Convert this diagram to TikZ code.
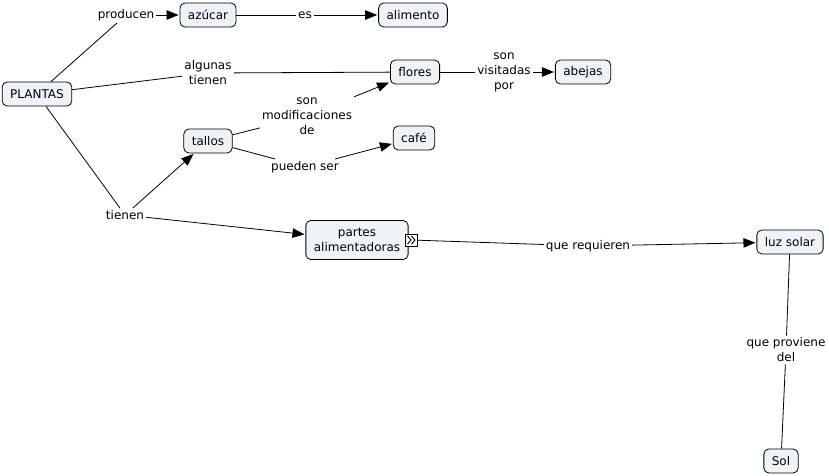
\documentclass[tikz,border=0pt]{standalone}
\usepackage{fontspec}
\setmainfont{DejaVu Sans}
\usepackage{xcolor}
\usepackage{tikz}
\usetikzlibrary{shapes,arrows,positioning,calc,arrows.meta}
\definecolor{conceptfill}{RGB}{237,243,246}

\begin{document}
\begin{tikzpicture}[x=1pt, y=-1pt,
    font=\fontsize{12}{15}\selectfont,
    concept/.style={draw, rounded corners=5pt, fill=conceptfill, line width=0.8pt, inner xsep=8pt, minimum height=24pt, align=center},
    phrase/.style={inner sep=2pt, align=center},
    link/.style={line width=0.8pt},
    arrowlink/.style={line width=0.8pt, shorten >=1pt, -{Triangle[length=12pt,width=9.5pt]}}]
    \useasboundingbox (0,0) rectangle (829,475);

    % Concepts
    \node[concept] (plantas) at (37,94) {PLANTAS};
    \node[concept] (azucar) at (208,15) {azúcar};
    \node[concept] (alimento) at (413,15) {alimento};
    \node[concept] (flores) at (415,72) {flores};
    \node[concept] (abejas) at (583,72) {abejas};
    \node[concept] (tallos) at (208,141) {tallos};
    \node[concept] (cafe) at (414,138) {café};
    \node[concept, minimum height=39pt] (partes) at (357,240) {partes\\alimentadoras};
    \node[draw, fill=white, line width=0.8pt, inner sep=0pt, minimum size=12pt] (partes-icon) at (411.5,240) {};
    \draw[line width=0.9pt, shift={(partes-icon.center)}] (-4,-4) -- (-0.5,0) -- (-4,4) (0,-4) -- (3.5,0) -- (0,4);
    \node[concept] (luz) at (790,242) {luz solar};
    \node[concept] (sol) at (781,461) {Sol};

    % Linking phrases
    \node[phrase] (producen) at (126,15) {producen};
    \node[phrase] (es) at (305,15) {es};
    \node[phrase] (algunas) at (208,73) {algunas\\tienen};
    \node[phrase] (visitadas) at (504,72) {son\\visitadas\\por};
    \node[phrase] (modif) at (307,116) {son\\modificaciones\\de};
    \node[phrase] (pueden) at (305,167) {pueden ser};
    \node[phrase] (tienen) at (125,215) {tienen};
    \node[phrase] (requieren) at (588,246) {que requieren};
    \node[phrase] (proviene) at (786,350) {que proviene\\del};

    % Connections
    \draw[link] (plantas) -- (producen);
    \draw[arrowlink] (producen) -- (azucar);
    \draw[link] (azucar) -- (es);
    \draw[arrowlink] (es) -- (alimento);
    \draw[link] (plantas) -- (algunas);
    \draw[link] (algunas) -- (flores);
    \draw[link] (flores) -- (visitadas);
    \draw[arrowlink] (visitadas) -- (abejas);
    \draw[link] (tallos) -- (modif);
    \draw[arrowlink] (modif) -- (flores);
    \draw[link] (tallos) -- (pueden);
    \draw[arrowlink] (pueden) -- (cafe);
    \draw[link] (plantas) -- (tienen);
    \draw[arrowlink] (tienen) -- (tallos);
    \draw[arrowlink] (tienen) -- (partes);
    \draw[link] (partes-icon) -- (requieren);
    \draw[arrowlink] (requieren) -- (luz);
    \draw[link] (luz) -- (proviene);
    \draw[link] (proviene) -- (sol);
\end{tikzpicture}
\end{document}
